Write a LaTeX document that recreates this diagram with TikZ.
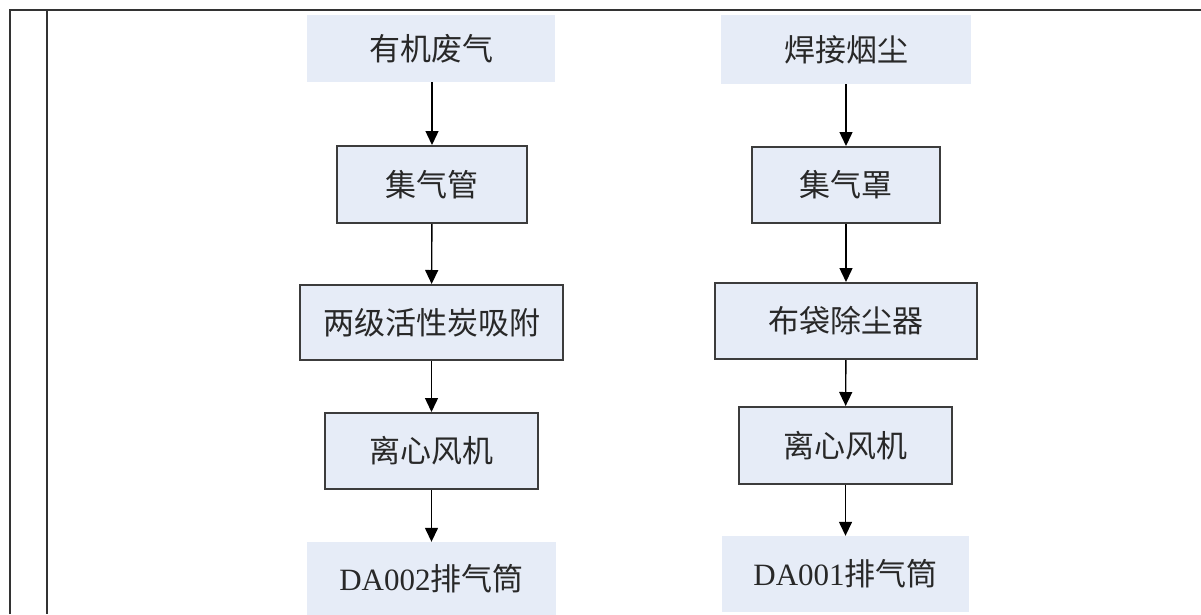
\documentclass[tikz,border=0pt]{standalone}
\usepackage{fontspec}
\setmainfont{Liberation Serif}
\newfontfamily\cjk{Noto Sans CJK SC}
\usetikzlibrary{arrows.meta}
\definecolor{boxfill}{RGB}{230,236,247}
\definecolor{boxline}{RGB}{60,60,60}
\definecolor{txt}{RGB}{40,40,40}
\tikzset{
  srcbox/.style={fill=boxfill, draw=none, inner sep=0pt, text=txt,
    font=\fontsize{31}{35}\selectfont},
  procbox/.style={fill=boxfill, draw=boxline, line width=2pt, inner sep=0pt, text=txt,
    font=\fontsize{31}{35}\selectfont\cjk},
  flow/.style={draw=black, line width=1.4pt, -{Triangle[width=13pt,length=14pt]}},
  tableline/.style={draw=black!80, line width=1.6pt}
}
\begin{document}
\begin{tikzpicture}[x=1pt,y=-1pt]
\useasboundingbox (0,0) rectangle (1201,614);
% table frame
\coordinate (tl) at (10,10);
\coordinate (tr) at (1201,10);
\coordinate (bl) at (10,614);
\coordinate (it) at (47,10);
\coordinate (ib) at (47,614);
\draw[tableline] (bl) -- (tl) -- (tr);
\draw[tableline] (it) -- (ib);
% left column
\node[srcbox, minimum width=248pt, minimum height=67pt] (a0) at (431,48.5) {\cjk 有机废气};
\node[procbox, minimum width=190pt, minimum height=77pt] (a1) at (432,184.5) {集气管};
\node[procbox, minimum width=263pt, minimum height=75pt] (a2) at (431.5,322.5) {两级活性炭吸附};
\node[procbox, minimum width=213pt, minimum height=76pt] (a3) at (431.5,451) {离心风机};
\node[srcbox, minimum width=249pt, minimum height=74pt] (a4) at (431.5,579) {DA002{\cjk 排气筒}};
% right column
\node[srcbox, minimum width=250pt, minimum height=69pt] (b0) at (846,49.5) {\cjk 焊接烟尘};
\node[procbox, minimum width=188pt, minimum height=76pt] (b1) at (846,185) {集气罩};
\node[procbox, minimum width=262pt, minimum height=76pt] (b2) at (846,321) {布袋除尘器};
\node[procbox, minimum width=213pt, minimum height=77pt] (b3) at (845.5,445.5) {离心风机};
\node[srcbox, minimum width=247pt, minimum height=76pt] (b4) at (845.5,574) {DA001{\cjk 排气筒}};
% connectors
\draw[flow] (a0.south -| a1.north) -- (a1.north);
\draw[flow] (a1) -- (a2);
\draw[flow] (a2) -- (a3);
\draw[flow] (a3) -- (a4);
\draw[flow] (b0) -- (b1);
\draw[flow] (b1) -- (b2);
\draw[flow] (b2) -- (b3);
\draw[flow] (b3) -- (b4);
\end{tikzpicture}
\end{document}
